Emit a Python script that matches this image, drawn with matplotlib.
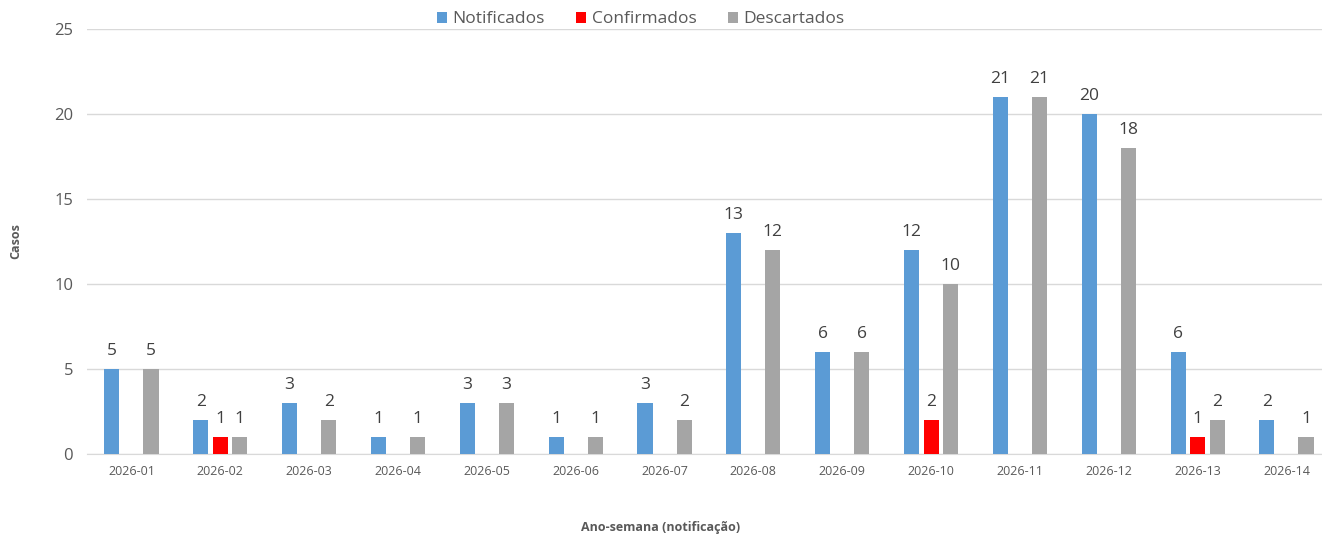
import numpy as np
import matplotlib.pyplot as plt

plt.rcParams['font.family'] = ['Open Sans', 'DejaVu Sans']

semanas = ["2026-01", "2026-02", "2026-03", "2026-04", "2026-05", "2026-06", "2026-07",
           "2026-08", "2026-09", "2026-10", "2026-11", "2026-12", "2026-13", "2026-14"]
notificados = [5, 2, 3, 1, 3, 1, 3, 13, 6, 12, 21, 20, 6, 2]
confirmados = [0, 1, 0, 0, 0, 0, 0, 0, 0, 2, 0, 0, 1, 0]
descartados = [5, 1, 2, 1, 3, 1, 2, 12, 6, 10, 21, 18, 2, 1]

series = [("Notificados", notificados, "#5B9BD5"),
          ("Confirmados", confirmados, "#FF0000"),
          ("Descartados", descartados, "#A5A5A5")]

fig = plt.figure(figsize=(13.22, 5.35), dpi=100)
ax = fig.add_axes([87 / 1322, 81 / 535, 1235 / 1322, 425 / 535])

x = np.arange(len(semanas))
w = 0.17
offsets = [-0.22, 0, 0.22]
txt = "#404040"

for (nome, vals, cor), off in zip(series, offsets):
    bars = ax.bar(x + off, vals, w, color=cor, label=nome, zorder=3)
    for b, v in zip(bars, vals):
        if v > 0:
            ax.text(b.get_x() + b.get_width() / 2, v + 0.6, str(v), ha="center",
                    va="bottom", fontsize=12.5, color=txt)

ax.set_xlim(-0.5, 13.4)
ax.set_ylim(0, 25)
ax.set_yticks(range(0, 26, 5))
ax.set_xticks(x)
ax.set_xticklabels(semanas, fontsize=9, color="#595959")
ax.tick_params(axis="y", labelsize=12, colors="#595959", length=0, pad=10)
ax.tick_params(axis="x", length=0, pad=8)
ax.grid(axis="y", color="#D9D9D9", linewidth=1, zorder=0)
for s in ["top", "right", "left"]:
    ax.spines[s].set_visible(False)
ax.spines["bottom"].set_color("#D9D9D9")

fig.text(16 / 1322, 1 - 241 / 535, "Casos", rotation=90, ha="center", va="center",
         fontsize=9, fontweight="bold", color="#595959")
fig.text(0.5, 1 - 527 / 535, "Ano-semana (notificação)", ha="center", va="center",
         fontsize=9, fontweight="bold", color="#595959")

ax.legend(loc="upper center", bbox_to_anchor=(0.5 - 64 / 1235, 1.078), ncol=3, frameon=False,
          fontsize=12.5, handlelength=0.6, handleheight=0.6, handletextpad=0.3,
          columnspacing=1.8, labelcolor="#595959")

fig.savefig("out.png", dpi=100)
